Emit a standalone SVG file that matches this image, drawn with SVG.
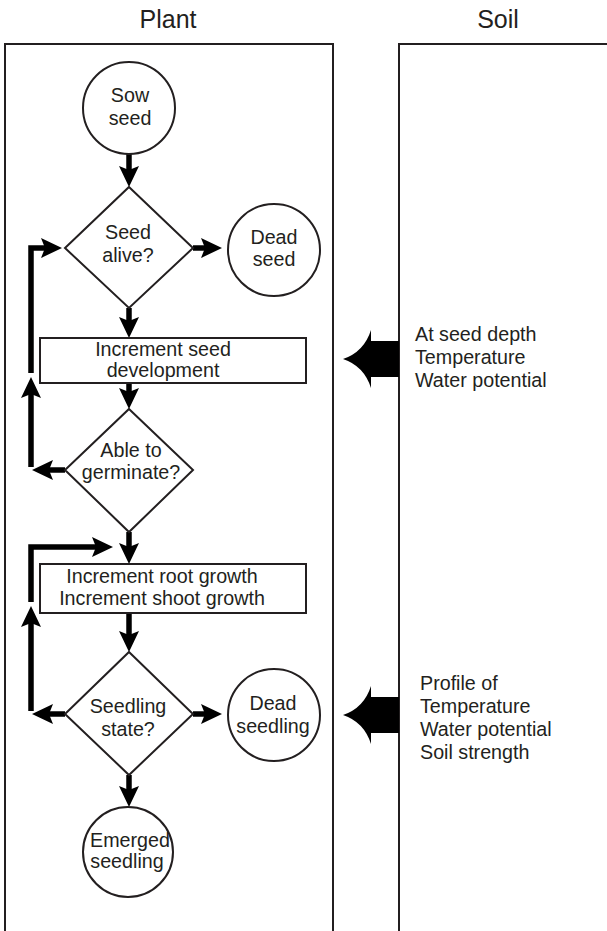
<svg xmlns="http://www.w3.org/2000/svg" width="607" height="931" viewBox="0 0 607 931">
  <style>
    .lbl { font-family: "Liberation Sans", Arial, sans-serif; font-size: 19.7px; fill: #231f20; }
    .mid { text-anchor: middle; }
    .title { font-family: "Liberation Sans", Arial, sans-serif; font-size: 25px; fill: #231f20; text-anchor: middle; }
    .frame { fill: none; stroke: #231f20; stroke-width: 2; }
    .shape { fill: #fff; stroke: #231f20; stroke-width: 2; }
    .flow { fill: none; stroke: #000; stroke-width: 5.5; stroke-linejoin: miter; }
    .input { fill: #000; }
  </style>
  <defs>
    <!-- solid arrowhead with a slightly notched back; tip sits 12px past the path end -->
    <marker id="ah" markerUnits="userSpaceOnUse" viewBox="-22 -11 24 22" markerWidth="24" markerHeight="22" refX="-12" refY="0" orient="auto">
      <path d="M-21,-10 L0,0 L-21,10 L-17,0 Z" fill="#000"/>
    </marker>
  </defs>

  <rect width="607" height="931" fill="#fff"/>

  <!-- column headings and frames -->
  <g id="plant-column">
    <text class="title" x="168" y="28">Plant</text>
    <path class="frame" d="M5,940 L5,44 L333,44 L333,940"/>
  </g>
  <g id="soil-column">
    <text class="title" x="498" y="28">Soil</text>
    <path class="frame" d="M399,940 L399,44 L620,44"/>
  </g>

  <!-- flow connectors -->
  <g id="connectors">
    <path class="flow" d="M129,153 L129,175" marker-end="url(#ah)"/>
    <path class="flow" d="M193,248 L210,248" marker-end="url(#ah)"/>
    <path class="flow" d="M129,308 L129,326" marker-end="url(#ah)"/>
    <path class="flow" d="M129,383 L129,397" marker-end="url(#ah)"/>
    <path class="flow" d="M129,532 L129,552" marker-end="url(#ah)"/>
    <path class="flow" d="M129,613 L129,640" marker-end="url(#ah)"/>
    <path class="flow" d="M193,714 L210,714" marker-end="url(#ah)"/>
    <path class="flow" d="M129,775 L129,795" marker-end="url(#ah)"/>

    <!-- loop back to the seed viability test -->
    <path class="flow" d="M65,470 L44,470" marker-end="url(#ah)"/>
    <path class="flow" d="M31,467 L31,389" marker-end="url(#ah)"/>
    <path class="flow" d="M31,373 L31,248 L50,248" marker-end="url(#ah)"/>

    <!-- loop back to seedling growth -->
    <path class="flow" d="M65,714 L44,714" marker-end="url(#ah)"/>
    <path class="flow" d="M31,711 L31,618" marker-end="url(#ah)"/>
    <path class="flow" d="M31,602 L31,547 L101,547" marker-end="url(#ah)"/>

    <!-- soil inputs -->
    <path class="input" d="M399,341 L371,341 L371,330 Q364,352 343,359 Q364,366 371,388 L371,377 L399,377 Z"/>
    <path class="input" d="M399,697 L371,697 L371,686 Q364,708 343,715 Q364,722 371,744 L371,733 L399,733 Z"/>
  </g>

  <!-- nodes -->
  <g id="sow-seed">
    <circle class="shape" cx="129" cy="108" r="46"/>
    <text class="lbl mid" x="130" y="102">Sow</text>
    <text class="lbl mid" x="130" y="125">seed</text>
  </g>
  <g id="seed-alive">
    <polygon class="shape" points="129,187 193,248 129,308 65,248"/>
    <text class="lbl mid" x="128" y="239">Seed</text>
    <text class="lbl mid" x="128" y="262">alive?</text>
  </g>
  <g id="dead-seed">
    <circle class="shape" cx="274" cy="250" r="46"/>
    <text class="lbl mid" x="274" y="244">Dead</text>
    <text class="lbl mid" x="274" y="266">seed</text>
  </g>
  <g id="seed-development">
    <rect class="shape" x="40" y="338" width="266" height="45"/>
    <text class="lbl mid" x="163" y="356">Increment seed</text>
    <text class="lbl mid" x="163" y="377">development</text>
  </g>
  <g id="able-to-germinate">
    <polygon class="shape" points="129,409 193,470 129,532 65,470"/>
    <text class="lbl mid" x="131" y="457">Able to</text>
    <text class="lbl mid" x="131" y="479">germinate?</text>
  </g>
  <g id="seedling-growth">
    <rect class="shape" x="40" y="564" width="266" height="49"/>
    <text class="lbl mid" x="162" y="583">Increment root growth</text>
    <text class="lbl mid" x="162" y="605">Increment shoot growth</text>
  </g>
  <g id="seedling-state">
    <polygon class="shape" points="129,652 193,714 129,775 65,714"/>
    <text class="lbl mid" x="128" y="713">Seedling</text>
    <text class="lbl mid" x="128" y="736">state?</text>
  </g>
  <g id="dead-seedling">
    <circle class="shape" cx="274" cy="715" r="46"/>
    <text class="lbl mid" x="273" y="710">Dead</text>
    <text class="lbl mid" x="273" y="733">seedling</text>
  </g>
  <g id="emerged-seedling">
    <circle class="shape" cx="128" cy="852" r="45"/>
    <text class="lbl mid" x="130" y="847">Emerged</text>
    <text class="lbl mid" x="127" y="868">seedling</text>
  </g>

  <!-- soil conditions passed to the plant -->
  <g id="seed-depth-conditions">
    <text class="lbl" x="415" y="341">At seed depth</text>
    <text class="lbl" x="415" y="364">Temperature</text>
    <text class="lbl" x="415" y="387">Water potential</text>
  </g>
  <g id="profile-conditions">
    <text class="lbl" x="420" y="690">Profile of</text>
    <text class="lbl" x="420" y="713">Temperature</text>
    <text class="lbl" x="420" y="736">Water potential</text>
    <text class="lbl" x="420" y="759">Soil strength</text>
  </g>
</svg>
